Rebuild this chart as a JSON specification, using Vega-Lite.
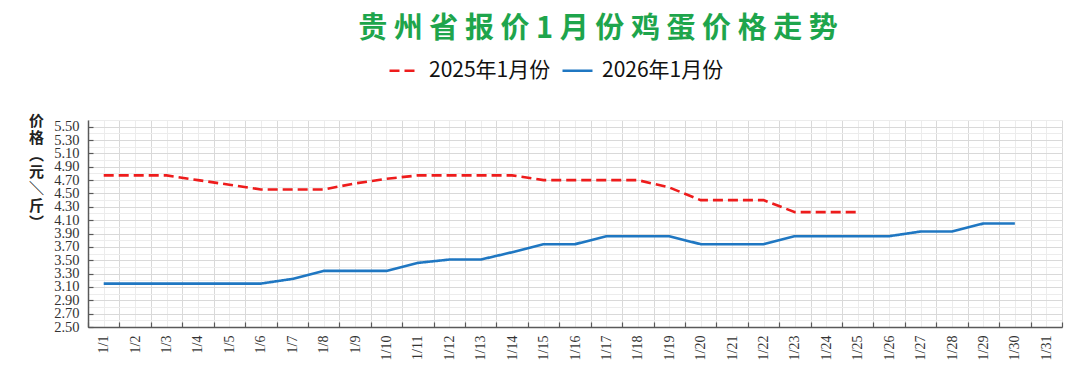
{
  "$schema": "https://vega.github.io/schema/vega-lite/v6.json",
  "autosize": "none",
  "width": 974,
  "height": 207,
  "padding": {"left": 88, "top": 120, "right": 18, "bottom": 64},
  "background": "white",
  "title": {
    "text": "贵 州 省 报 价 1 月 份 鸡 蛋 价 格 走 势",
    "font": "Noto Sans CJK SC",
    "fontSize": 29,
    "fontWeight": "bold",
    "color": "#1ea54c",
    "anchor": "middle",
    "frame": "group",
    "dx": 23,
    "offset": 10
  },
  "config": {"view": {"stroke": null}},
  "data": {
    "values": [
      {"series": "2025年1月份", "date": "1/1", "day": 1, "price": 4.77},
      {"series": "2025年1月份", "date": "1/2", "day": 2, "price": 4.77},
      {"series": "2025年1月份", "date": "1/3", "day": 3, "price": 4.77},
      {"series": "2025年1月份", "date": "1/4", "day": 4, "price": 4.70},
      {"series": "2025年1月份", "date": "1/5", "day": 5, "price": 4.63},
      {"series": "2025年1月份", "date": "1/6", "day": 6, "price": 4.56},
      {"series": "2025年1月份", "date": "1/7", "day": 7, "price": 4.56},
      {"series": "2025年1月份", "date": "1/8", "day": 8, "price": 4.56},
      {"series": "2025年1月份", "date": "1/9", "day": 9, "price": 4.65},
      {"series": "2025年1月份", "date": "1/10", "day": 10, "price": 4.72},
      {"series": "2025年1月份", "date": "1/11", "day": 11, "price": 4.77},
      {"series": "2025年1月份", "date": "1/12", "day": 12, "price": 4.77},
      {"series": "2025年1月份", "date": "1/13", "day": 13, "price": 4.77},
      {"series": "2025年1月份", "date": "1/14", "day": 14, "price": 4.77},
      {"series": "2025年1月份", "date": "1/15", "day": 15, "price": 4.70},
      {"series": "2025年1月份", "date": "1/16", "day": 16, "price": 4.70},
      {"series": "2025年1月份", "date": "1/17", "day": 17, "price": 4.70},
      {"series": "2025年1月份", "date": "1/18", "day": 18, "price": 4.70},
      {"series": "2025年1月份", "date": "1/19", "day": 19, "price": 4.59},
      {"series": "2025年1月份", "date": "1/20", "day": 20, "price": 4.40},
      {"series": "2025年1月份", "date": "1/21", "day": 21, "price": 4.40},
      {"series": "2025年1月份", "date": "1/22", "day": 22, "price": 4.40},
      {"series": "2025年1月份", "date": "1/23", "day": 23, "price": 4.22},
      {"series": "2025年1月份", "date": "1/24", "day": 24, "price": 4.22},
      {"series": "2025年1月份", "date": "1/25", "day": 25, "price": 4.22},
      {"series": "2026年1月份", "date": "1/1", "day": 1, "price": 3.15},
      {"series": "2026年1月份", "date": "1/2", "day": 2, "price": 3.15},
      {"series": "2026年1月份", "date": "1/3", "day": 3, "price": 3.15},
      {"series": "2026年1月份", "date": "1/4", "day": 4, "price": 3.15},
      {"series": "2026年1月份", "date": "1/5", "day": 5, "price": 3.15},
      {"series": "2026年1月份", "date": "1/6", "day": 6, "price": 3.15},
      {"series": "2026年1月份", "date": "1/7", "day": 7, "price": 3.22},
      {"series": "2026年1月份", "date": "1/8", "day": 8, "price": 3.34},
      {"series": "2026年1月份", "date": "1/9", "day": 9, "price": 3.34},
      {"series": "2026年1月份", "date": "1/10", "day": 10, "price": 3.34},
      {"series": "2026年1月份", "date": "1/11", "day": 11, "price": 3.46},
      {"series": "2026年1月份", "date": "1/12", "day": 12, "price": 3.51},
      {"series": "2026年1月份", "date": "1/13", "day": 13, "price": 3.51},
      {"series": "2026年1月份", "date": "1/14", "day": 14, "price": 3.62},
      {"series": "2026年1月份", "date": "1/15", "day": 15, "price": 3.74},
      {"series": "2026年1月份", "date": "1/16", "day": 16, "price": 3.74},
      {"series": "2026年1月份", "date": "1/17", "day": 17, "price": 3.86},
      {"series": "2026年1月份", "date": "1/18", "day": 18, "price": 3.86},
      {"series": "2026年1月份", "date": "1/19", "day": 19, "price": 3.86},
      {"series": "2026年1月份", "date": "1/20", "day": 20, "price": 3.74},
      {"series": "2026年1月份", "date": "1/21", "day": 21, "price": 3.74},
      {"series": "2026年1月份", "date": "1/22", "day": 22, "price": 3.74},
      {"series": "2026年1月份", "date": "1/23", "day": 23, "price": 3.86},
      {"series": "2026年1月份", "date": "1/24", "day": 24, "price": 3.86},
      {"series": "2026年1月份", "date": "1/25", "day": 25, "price": 3.86},
      {"series": "2026年1月份", "date": "1/26", "day": 26, "price": 3.86},
      {"series": "2026年1月份", "date": "1/27", "day": 27, "price": 3.93},
      {"series": "2026年1月份", "date": "1/28", "day": 28, "price": 3.93},
      {"series": "2026年1月份", "date": "1/29", "day": 29, "price": 4.05},
      {"series": "2026年1月份", "date": "1/30", "day": 30, "price": 4.05}
    ]
  },
  "resolve": {"axis": {"x": "independent", "y": "independent"}},
  "layer": [
    {
      "mark": {"type": "line", "opacity": 0},
      "encoding": {
        "x": {
          "field": "day", "type": "quantitative",
          "scale": {"domain": [0.5, 31.5], "nice": false, "zero": false},
          "axis": {
            "orient": "bottom",
            "values": [1,2,3,4,5,6,7,8,9,10,11,12,13,14,15,16,17,18,19,20,21,22,23,24,25,26,27,28,29,30,31],
            "grid": true, "gridColor": "#ececec", "gridWidth": 1,
            "ticks": false, "domain": false,
            "labelExpr": "'1/' + datum.value",
            "labelAngle": -90,
            "labelFont": "Liberation Serif", "labelFontSize": 14, "labelColor": "#333333",
            "labelPadding": 8, "labelOverlap": false, "labelBound": false, "labelFlush": false,
            "title": null
          }
        },
        "y": {
          "field": "price", "type": "quantitative",
          "scale": {"domain": [2.5, 5.6], "nice": false, "zero": false},
          "axis": {
            "orient": "left",
            "values": [2.6,2.8,3.0,3.2,3.4,3.6,3.8,4.0,4.2,4.4,4.6,4.8,5.0,5.2,5.4,5.6],
            "grid": true, "gridColor": "#ececec", "gridWidth": 1,
            "ticks": false, "domain": false, "labels": false, "title": null
          }
        },
        "detail": {"field": "series", "type": "nominal"}
      }
    },
    {
      "mark": {"type": "line", "strokeWidth": 2.6},
      "encoding": {
        "x": {
          "field": "day", "type": "quantitative",
          "scale": {"domain": [0.5, 31.5], "nice": false, "zero": false},
          "axis": {
            "orient": "bottom",
            "values": [0.5,1.5,2.5,3.5,4.5,5.5,6.5,7.5,8.5,9.5,10.5,11.5,12.5,13.5,14.5,15.5,16.5,17.5,18.5,19.5,20.5,21.5,22.5,23.5,24.5,25.5,26.5,27.5,28.5,29.5,30.5,31.5],
            "grid": true, "gridColor": "#d9d9d9", "gridWidth": 1,
            "labels": false, "ticks": true, "tickSize": -5, "tickColor": "#595959", "tickWidth": 1.2,
            "domain": true, "domainColor": "#595959", "domainWidth": 1.5,
            "title": null
          }
        },
        "y": {
          "field": "price", "type": "quantitative",
          "scale": {"domain": [2.5, 5.6], "nice": false, "zero": false},
          "axis": {
            "orient": "left",
            "values": [2.5,2.7,2.9,3.1,3.3,3.5,3.7,3.9,4.1,4.3,4.5,4.7,4.9,5.1,5.3,5.5],
            "format": ".2f",
            "grid": true, "gridColor": "#d9d9d9", "gridWidth": 1,
            "ticks": true, "tickSize": -5, "tickColor": "#595959", "tickWidth": 1.2,
            "domain": true, "domainColor": "#595959", "domainWidth": 1.5,
            "labelFont": "Liberation Serif", "labelFontSize": 14.5, "labelColor": "#333333",
            "labelPadding": 14, "labelOverlap": false, "labelBound": false, "labelFlush": false,
            "title": ["价", "格", "︵", "元", "＼", "斤", "︶"],
            "titleAngle": 0, "titleAlign": "center", "titleBaseline": "top",
            "titleX": -52, "titleY": -7,
            "titleFont": "Noto Sans CJK SC", "titleFontSize": 15, "titleFontWeight": "bold",
            "titleLineHeight": 17, "titleColor": "#222222"
          }
        },
        "color": {
          "field": "series", "type": "nominal",
          "scale": {"domain": ["2025年1月份", "2026年1月份"], "range": ["#ee1c1c", "#1f77c2"]},
          "legend": {
            "orient": "none", "legendX": 300, "legendY": -66, "direction": "horizontal",
            "title": null, "symbolType": "stroke", "symbolSize": 900, "symbolStrokeWidth": 2.5,
            "labelFont": "Noto Sans CJK SC", "labelFontSize": 21, "labelColor": "#111111",
            "columnPadding": 6, "labelOffset": 8
          }
        },
        "strokeDash": {
          "field": "series", "type": "nominal",
          "scale": {"domain": ["2025年1月份", "2026年1月份"], "range": [[10, 5], [1, 0]]},
          "legend": {
            "orient": "none", "legendX": 300, "legendY": -66, "direction": "horizontal",
            "title": null, "symbolType": "stroke", "symbolSize": 900, "symbolStrokeWidth": 2.5,
            "labelFont": "Noto Sans CJK SC", "labelFontSize": 21, "labelColor": "#111111",
            "columnPadding": 6, "labelOffset": 8
          }
        }
      }
    }
  ]
}
